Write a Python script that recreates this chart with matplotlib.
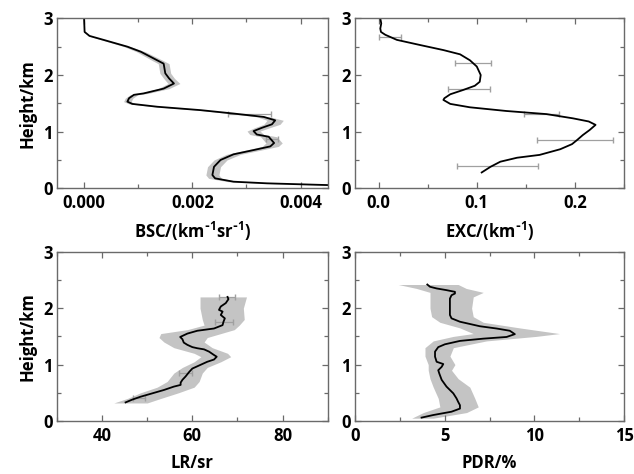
import numpy as np
import matplotlib
matplotlib.use("Agg")
import matplotlib.pyplot as plt
from matplotlib.ticker import MultipleLocator, FormatStrFormatter

plt.rcParams['font.family'] = ['Open Sans', 'DejaVu Sans']
plt.rcParams['font.weight'] = 'bold'
plt.rcParams['axes.labelweight'] = 'bold'
plt.rcParams['mathtext.default'] = 'regular'

# --- backscatter coefficient profile ---
bsc_h = [3.0, 2.76, 2.69, 2.62, 2.50, 2.41, 2.26, 2.20, 2.03, 1.94, 1.85, 1.76, 1.675,
         1.65, 1.59, 1.53, 1.49, 1.44, 1.38, 1.32, 1.26, 1.20, 1.13, 1.07, 1.01, 0.95,
         0.91, 0.80, 0.74, 0.675, 0.60, 0.50, 0.38, 0.235, 0.176, 0.117, 0.088, 0.06, 0.045]
bsc = [0.0, 0.00001, 0.0001, 0.00036, 0.0008, 0.00105, 0.00135, 0.00147, 0.0015, 0.00157,
       0.00166, 0.00147, 0.0011, 0.00092, 0.00083, 0.0008, 0.00089, 0.00135, 0.00215,
       0.00276, 0.00332, 0.00353, 0.00347, 0.00329, 0.00313, 0.00319, 0.00341, 0.00351,
       0.00344, 0.00313, 0.00276, 0.00252, 0.0024, 0.00237, 0.00242, 0.00276, 0.00338,
       0.0044, 0.0050]
bsc_err = [0, 0, 0.00002, 0.00004, 0.00006, 0.00008, 0.0001, 0.0001, 0.0001, 0.0001,
           0.00011, 0.0001, 0.00008, 0.00007, 0.00007, 0.00007, 0.00006, 0.00005, 0.00005,
           0.00008, 0.00012, 0.00015, 0.00015, 0.00014, 0.00012, 0.00013, 0.00015, 0.00015,
           0.00015, 0.00014, 0.00013, 0.00012, 0.00012, 0.00012, 0.00012, 0.0001, 0.00005,
           0.00002, 0.0]
bsc_bar_h = [1.31, 0.865]
bsc_bar_x = [0.00305, 0.00347]
bsc_bar_err = [0.0004, 0.00011]

# --- extinction coefficient profile ---
exc_h = [3.0, 2.91, 2.82, 2.76, 2.71, 2.62, 2.53, 2.44, 2.365, 2.26, 2.15, 2.0, 1.88,
         1.81, 1.735, 1.66, 1.59, 1.56, 1.49, 1.43, 1.365, 1.31, 1.235, 1.18, 1.12, 1.03,
         0.94, 0.85, 0.78, 0.69, 0.59, 0.54, 0.47, 0.38, 0.28]
exc = [0.0017, 0.0027, 0.0017, 0.0024, 0.0068, 0.0186, 0.042, 0.066, 0.083, 0.093, 0.100,
       0.104, 0.103, 0.098, 0.086, 0.073, 0.067, 0.066, 0.073, 0.093, 0.130, 0.171, 0.198,
       0.214, 0.221, 0.215, 0.208, 0.202, 0.197, 0.185, 0.164, 0.141, 0.124, 0.114, 0.105]
exc_bar_h = [2.665, 2.22, 1.76, 1.31, 0.85, 0.40]
exc_bar_x = [0.0115, 0.096, 0.092, 0.166, 0.200, 0.121]
exc_bar_err = [0.0115, 0.018, 0.021, 0.018, 0.039, 0.041]

# --- lidar ratio profile ---
lr_h = [2.20, 2.16, 2.09, 2.03, 1.97, 1.94, 1.88, 1.82, 1.76, 1.70, 1.64, 1.60, 1.55,
        1.49, 1.45, 1.39, 1.35, 1.31, 1.29, 1.27, 1.23, 1.17, 1.14, 1.09, 1.05, 1.01,
        0.97, 0.93, 0.87, 0.79, 0.73, 0.68, 0.64, 0.61, 0.55, 0.49, 0.43, 0.38, 0.33]
lr = [67.8, 68.0, 67.4, 66.3, 65.9, 66.7, 66.3, 67.2, 66.9, 66.7, 64.8, 61.1, 58.9, 57.3,
      57.8, 58.1, 58.9, 60.0, 61.1, 62.6, 63.7, 64.8, 65.4, 64.8, 63.3, 62.2, 61.1, 60.0,
      59.3, 58.5, 57.8, 57.4, 57.4, 55.9, 53.7, 51.1, 48.5, 46.7, 45.2]
lr_band_h = [2.2, 2.0, 1.8, 1.7, 1.62, 1.55, 1.48, 1.4, 1.3, 1.2, 1.14, 1.05, 0.95,
             0.85, 0.7, 0.6, 0.5, 0.4, 0.32]
lr_low = [61.7, 61.7, 62.2, 62.6, 58.9, 53.0, 52.6, 53.7, 55.9, 60.4, 61.9, 60.4, 57.8,
          55.9, 54.4, 52.2, 48.5, 45.6, 42.6]
lr_high = [72.0, 71.3, 71.5, 70.4, 69.3, 66.3, 63.3, 62.6, 64.4, 67.8, 68.5, 66.3, 63.3,
           62.2, 61.5, 60.4, 56.9, 53.0, 50.0]
lr_bar_h = [2.20, 1.76, 0.85, 0.40]
lr_bar_x = [67.7, 67.0, 58.5, 48.2]
lr_bar_err = [1.8, 2.0, 1.5, 1.4]

# --- particle depolarization ratio profile ---
pdr_h = [2.42, 2.38, 2.35, 2.32, 2.29, 2.26, 2.23, 2.17, 2.08, 1.97, 1.88, 1.82, 1.76,
         1.68, 1.64, 1.60, 1.54, 1.49, 1.46, 1.42, 1.36, 1.31, 1.23, 1.14, 1.05, 1.01,
         0.96, 0.90, 0.84, 0.73, 0.61, 0.49, 0.40, 0.34, 0.28, 0.22, 0.165, 0.106, 0.06]
pdr = [4.03, 4.18, 4.55, 5.10, 5.57, 5.57, 5.38, 5.29, 5.29, 5.29, 5.29, 5.38, 5.85, 6.96,
       7.89, 8.63, 8.91, 8.45, 7.15, 5.85, 5.01, 4.64, 4.46, 4.46, 4.55, 4.92, 4.83, 4.64,
       4.70, 4.83, 5.10, 5.48, 5.66, 5.75, 5.85, 5.85, 5.38, 4.36, 3.71]
pdr_band_h = [2.42, 2.35, 2.28, 2.2, 2.0, 1.85, 1.75, 1.65, 1.55, 1.5, 1.42, 1.3, 1.15,
              1.0, 0.9, 0.75, 0.6, 0.4, 0.25, 0.15, 0.05]
pdr_low = [2.41, 3.43, 4.18, 4.18, 4.18, 4.27, 4.73, 5.85, 6.59, 5.48, 4.36, 3.9, 3.9,
           4.08, 4.08, 4.18, 4.36, 4.64, 4.73, 3.81, 3.16]
pdr_high = [5.75, 6.2, 7.15, 6.59, 6.50, 6.59, 7.15, 9.19, 11.4, 10.1, 7.33, 5.48, 5.29,
            5.57, 5.38, 5.75, 6.40, 6.68, 6.87, 6.22, 4.36]

band_color = '#c4c4c4'
bar_color = '#a0a0a0'
frame_color = '#6a6a6a'

fig = plt.figure(figsize=(6.34, 4.74), dpi=100)
ax_bsc = fig.add_axes([0.0899, 0.6027, 0.427, 0.3586])
ax_exc = fig.add_axes([0.560, 0.6027, 0.4243, 0.3586])
ax_lr = fig.add_axes([0.0899, 0.1118, 0.427, 0.357])
ax_pdr = fig.add_axes([0.560, 0.1118, 0.4243, 0.357])

# BSC
b = np.array(bsc)
e = np.array(bsc_err)
ax_bsc.fill_betweenx(bsc_h, b - e, b + e, color=band_color, lw=0)
ax_bsc.errorbar(bsc_bar_x, bsc_bar_h, xerr=bsc_bar_err, fmt='none', ecolor=bar_color,
                elinewidth=0.9, capsize=2)
ax_bsc.plot(bsc, bsc_h, color='black', lw=1.3)
ax_bsc.set_xlim(-0.0005, 0.0045)
ax_bsc.xaxis.set_major_locator(MultipleLocator(0.002))
ax_bsc.xaxis.set_minor_locator(MultipleLocator(0.001))
ax_bsc.xaxis.set_major_formatter(FormatStrFormatter('%.3f'))
ax_bsc.set_xlabel(r'BSC/(km$^{\text{-}1}$sr$^{\text{-}1}$)', labelpad=6)

# EXC
ax_exc.errorbar(exc_bar_x, exc_bar_h, xerr=exc_bar_err, fmt='none', ecolor=bar_color,
                elinewidth=0.9, capsize=2)
ax_exc.plot(exc, exc_h, color='black', lw=1.3)
ax_exc.set_xlim(-0.024, 0.25)
ax_exc.xaxis.set_major_locator(MultipleLocator(0.1))
ax_exc.xaxis.set_minor_locator(MultipleLocator(0.05))
ax_exc.xaxis.set_major_formatter(FormatStrFormatter('%.1f'))
ax_exc.set_xlabel(r'EXC/(km$^{\text{-}1}$)', labelpad=6)

# LR
ax_lr.fill_betweenx(lr_band_h, lr_low, lr_high, color=band_color, lw=0)
ax_lr.errorbar(lr_bar_x, lr_bar_h, xerr=lr_bar_err, fmt='none', ecolor=bar_color,
               elinewidth=0.9, capsize=2)
ax_lr.plot(lr, lr_h, color='black', lw=1.3)
ax_lr.set_xlim(30, 90)
ax_lr.xaxis.set_major_locator(MultipleLocator(20))
ax_lr.xaxis.set_minor_locator(MultipleLocator(10))
ax_lr.set_xlabel('LR/sr', labelpad=7)

# PDR
ax_pdr.fill_betweenx(pdr_band_h, pdr_low, pdr_high, color=band_color, lw=0)
ax_pdr.plot(pdr, pdr_h, color='black', lw=1.3)
ax_pdr.set_xlim(0, 15)
ax_pdr.xaxis.set_major_locator(MultipleLocator(5))
ax_pdr.xaxis.set_minor_locator(MultipleLocator(2.5))
ax_pdr.set_xlabel('PDR/%', labelpad=7)

for ax in (ax_bsc, ax_exc, ax_lr, ax_pdr):
    ax.set_ylim(0, 3)
    ax.yaxis.set_major_locator(MultipleLocator(1))
    ax.yaxis.set_minor_locator(MultipleLocator(0.5))
    ax.tick_params(which='both', direction='in', top=True, right=True,
                   color=frame_color, width=0.9)
    ax.tick_params(which='major', length=4, labelsize=12, pad=4)
    ax.tick_params(axis='y', which='major', pad=3)
    ax.tick_params(which='minor', length=3)
    for s in ax.spines.values():
        s.set_color(frame_color)
        s.set_linewidth(1.0)
    ax.xaxis.label.set_size(12)
    for lab in ax.get_xticklabels() + ax.get_yticklabels():
        lab.set_fontweight('bold')

for ax in (ax_bsc, ax_lr):
    ax.set_ylabel('Height/km', fontsize=12, labelpad=5)

fig.savefig('out.png', dpi=100)
